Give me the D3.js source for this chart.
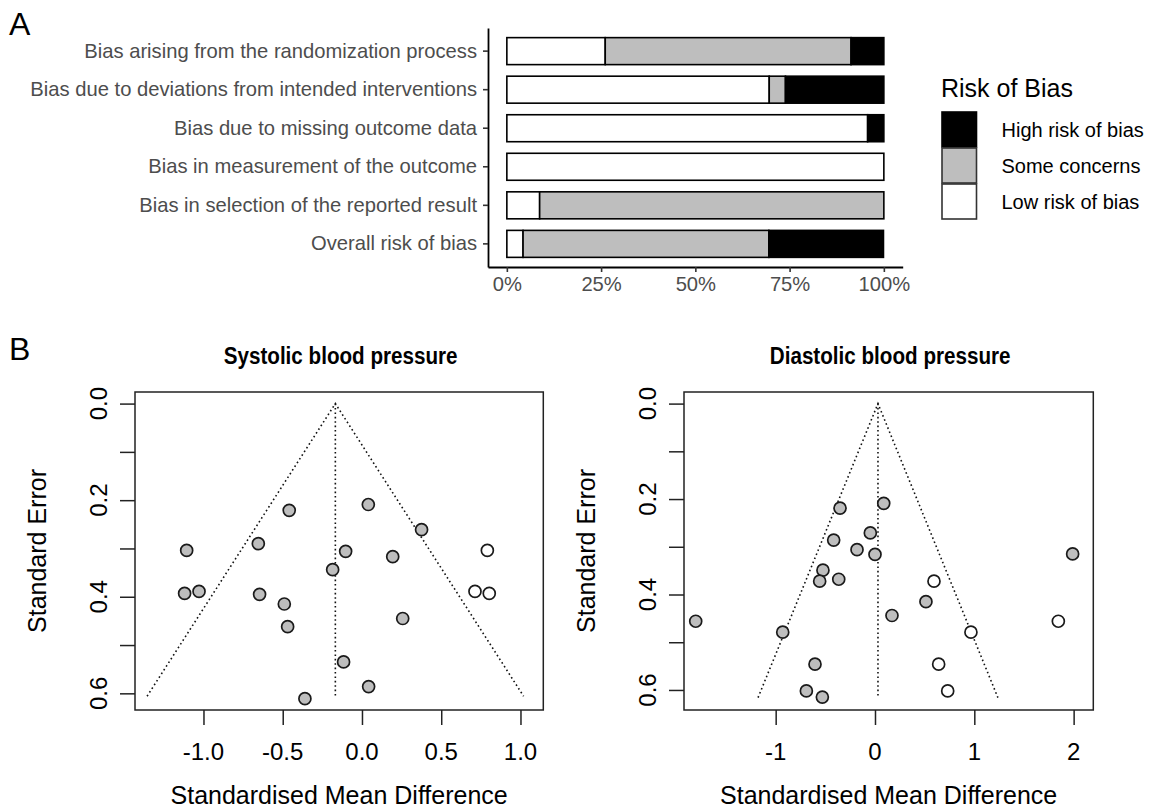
<!DOCTYPE html>
<html><head><meta charset="utf-8">
<script src="https://cdn.jsdelivr.net/npm/d3@7"></script>
<style>body{margin:0;background:#fff} svg{display:block}</style>
</head><body>
<svg id="chart" width="1159" height="810"></svg>
<script>
// ---------- Panel A data ----------
const domains = [
  "Bias arising from the randomization process",
  "Bias due to deviations from intended interventions",
  "Bias due to missing outcome data",
  "Bias in measurement of the outcome",
  "Bias in selection of the reported result",
  "Overall risk of bias"
];
const lowPct  = [26.1, 69.6, 95.7, 100, 8.7, 4.3];
const somePct = [65.2, 4.3, 0, 0, 91.3, 65.2];
const highPct = [8.7, 26.1, 4.3, 0, 0, 30.4];
const riskLevels = ["High risk of bias", "Some concerns", "Low risk of bias"];
const riskColors = ["#000000", "#BEBEBE", "#FFFFFF"];
const pctTicks = [0, 25, 50, 75, 100];
const pctTickLabels = ["0%", "25%", "50%", "75%", "100%"];

// ---------- Panel B data ----------
const sbpSMD = [-0.459, 0.040, 0.376, -1.106, -0.654, -0.103, 0.194, -0.185, -1.119, -1.028, -0.646, -0.490, -0.469, 0.257, -0.116, 0.042, -0.360];
const sbpSE  = [0.221, 0.209, 0.261, 0.304, 0.290, 0.306, 0.317, 0.344, 0.393, 0.389, 0.395, 0.415, 0.462, 0.445, 0.535, 0.586, 0.611];
const sbpFillSMD = [0.791, 0.713, 0.803];
const sbpFillSE  = [0.304, 0.389, 0.393];
const sbpCenter = -0.168, sbpSEmax = 0.606;

const dbpSMD = [-0.352, 0.088, -0.047, -0.416, -0.181, 0.000, 1.990, -0.524, -0.557, -0.365, 0.513, 0.171, -1.805, -0.929, -0.604, -0.691, -0.530];
const dbpSE  = [0.219, 0.209, 0.271, 0.286, 0.306, 0.316, 0.315, 0.349, 0.372, 0.368, 0.415, 0.444, 0.456, 0.479, 0.546, 0.602, 0.615];
const dbpFillSMD = [0.594, 1.846, 0.966, 0.641, 0.732];
const dbpFillSE  = [0.372, 0.456, 0.479, 0.546, 0.602];
const dbpCenter = 0.030, dbpSEmax = 0.616;

const seTicks = [0, 0.1, 0.2, 0.3, 0.4, 0.5, 0.6];
const seTickLabels = ["0.0", "0.2", "0.4", "0.6"];
const sbpXTicks = [-1, -0.5, 0, 0.5, 1];
const sbpXTickLabels = ["-1.0", "-0.5", "0.0", "0.5", "1.0"];
const dbpXTicks = [-1, 0, 1, 2];
const dbpXTickLabels = ["-1", "0", "1", "2"];

const FONT = "'Liberation Sans', Arial, Helvetica, sans-serif";
const svg = d3.select("#chart").style("font-family", FONT);

// ---------- Panel labels ----------
svg.append("text").attr("x", 9).attr("y", 35).attr("font-size", 32).text("A");
svg.append("text").attr("x", 9).attr("y", 360).attr("font-size", 32).text("B");

// ---------- Panel A ----------
(function () {
  const x = d3.scaleLinear().domain([-5, 105]).range([488, 902.7]);
  const y = d3.scaleBand().domain(domains).range([28, 267]).paddingInner(0.3).paddingOuter(0.25);
  const g = svg.append("g");

  const rows = domains.map((d, i) => {
    const segs = [
      { level: 2, start: 0, val: lowPct[i] },
      { level: 1, start: lowPct[i], val: somePct[i] },
      { level: 0, start: lowPct[i] + somePct[i], val: highPct[i] }
    ].filter(s => s.val > 0);
    return { d, segs };
  });
  rows.forEach(r => {
    g.selectAll(null).data(r.segs).enter().append("rect")
      .attr("x", s => x(s.start))
      .attr("width", s => x(s.start + s.val) - x(s.start))
      .attr("y", y(r.d))
      .attr("height", y.bandwidth())
      .attr("fill", s => riskColors[s.level])
      .attr("stroke", "#000").attr("stroke-width", 1.6);
  });

  const ya = g.append("g").attr("transform", "translate(488,0)")
    .call(d3.axisLeft(y).tickSize(5).tickSizeOuter(0).tickPadding(6));
  const xa = g.append("g").attr("transform", "translate(0,267)")
    .call(d3.axisBottom(x).tickValues(pctTicks).tickFormat((d, i) => pctTickLabels[i]).tickSize(5).tickSizeOuter(0).tickPadding(5));
  [ya, xa].forEach(a => {
    a.select(".domain").attr("stroke", "#000").attr("stroke-width", 1.8);
    a.selectAll(".tick line").attr("stroke", "#333").attr("stroke-width", 1.6);
    a.selectAll(".tick text").attr("fill", "#4D4D4D").attr("font-size", 20.2).attr("font-family", FONT);
  });

  // Legend
  const lg = svg.append("g");
  lg.append("text").attr("x", 941).attr("y", 96.5).attr("font-size", 25).attr("fill", "#000").text("Risk of Bias");
  riskLevels.forEach((lv, i) => {
    lg.append("rect").attr("x", 942).attr("y", 112 + i * 36).attr("width", 34.5).attr("height", 35)
      .attr("fill", riskColors[i]).attr("stroke", i === 0 ? "#000" : "#333").attr("stroke-width", 1.6);
    lg.append("text").attr("x", 1001.5).attr("y", 129.5 + i * 36).attr("dy", "0.35em")
      .attr("font-size", 20).attr("fill", "#000").text(lv);
  });
})();

// ---------- Panel B ----------
function funnel(cfg) {
  const x = d3.scaleLinear().domain(cfg.xDomain).range([cfg.left, cfg.right]);
  const y = d3.scaleLinear().domain(cfg.yDomain).range([392, 710]);
  const g = svg.append("g");

  // funnel lines
  const tri = [[cfg.center - 1.96 * cfg.seMax, cfg.seMax], [cfg.center, 0], [cfg.center + 1.96 * cfg.seMax, cfg.seMax]];
  g.append("path").attr("d", d3.line().x(d => x(d[0])).y(d => y(d[1]))(tri))
    .attr("fill", "none").attr("stroke", "#111").attr("stroke-width", 1.6).attr("stroke-dasharray", "1.6,2.8");
  g.append("path").attr("d", d3.line().x(d => x(d[0])).y(d => y(d[1]))([[cfg.center, 0], [cfg.center, cfg.seMax]]))
    .attr("fill", "none").attr("stroke", "#111").attr("stroke-width", 1.6).attr("stroke-dasharray", "1.6,2.8");

  // points
  const obs = cfg.smd.map((v, i) => ({ x: v, se: cfg.se[i], filled: true }));
  const imp = cfg.fillSmd.map((v, i) => ({ x: v, se: cfg.fillSe[i], filled: false }));
  g.selectAll(null).data(obs.concat(imp)).enter().append("circle")
    .attr("cx", d => x(d.x)).attr("cy", d => y(d.se)).attr("r", 6)
    .attr("fill", d => d.filled ? "#BEBEBE" : "#FFFFFF")
    .attr("stroke", "#1a1a1a").attr("stroke-width", 1.7);

  // box
  g.append("rect").attr("x", cfg.left).attr("y", 392).attr("width", cfg.right - cfg.left).attr("height", 318)
    .attr("fill", "none").attr("stroke", "#222").attr("stroke-width", 1.5);

  // x axis
  const xa = g.append("g").attr("transform", "translate(0,710)")
    .call(d3.axisBottom(x).tickValues(cfg.xTicks).tickFormat("").tickSize(15).tickSizeOuter(0));
  xa.select(".domain").remove();
  xa.selectAll(".tick line").attr("stroke", "#222").attr("stroke-width", 1.5);
  g.selectAll(null).data(cfg.xTicks).enter().append("text")
    .attr("x", d => x(d)).attr("y", 760).attr("text-anchor", "middle").attr("font-size", 24).attr("fill", "#000")
    .text((d, i) => cfg.xTickLabels[i]);

  // y axis
  const ya = g.append("g").attr("transform", `translate(${cfg.left},0)`)
    .call(d3.axisLeft(y).tickValues(seTicks).tickFormat("").tickSize(15).tickSizeOuter(0));
  ya.select(".domain").remove();
  ya.selectAll(".tick line").attr("stroke", "#222").attr("stroke-width", 1.5);
  const labelTicks = seTicks.filter((d, i) => i % 2 === 0);
  g.selectAll(null).data(labelTicks).enter().append("text")
    .attr("transform", d => `translate(${cfg.left - 28.5},${y(d)}) rotate(-90)`)
    .attr("text-anchor", "middle").attr("font-size", 24).attr("fill", "#000")
    .text((d, i) => seTickLabels[i]);

  // titles
  const cx = (cfg.left + cfg.right) / 2;
  g.append("text").attr("x", cx).attr("y", 804).attr("text-anchor", "middle").attr("font-size", 25).attr("fill", "#000")
    .text("Standardised Mean Difference");
  g.append("text").attr("transform", `translate(${cfg.left - 89},551) rotate(-90)`)
    .attr("text-anchor", "middle").attr("font-size", 25).attr("fill", "#000").text("Standard Error");
  g.append("text").attr("transform", `translate(${cx + 1.5},364) scale(0.86,1)`).attr("text-anchor", "middle")
    .attr("font-size", 24).attr("font-weight", "bold")
    .attr("fill", "#000").text(cfg.title);
}

funnel({
  title: "Systolic blood pressure", left: 135, right: 543.3,
  xDomain: [-1.432, 1.144], yDomain: [-0.024, 0.6345],
  smd: sbpSMD, se: sbpSE, fillSmd: sbpFillSMD, fillSe: sbpFillSE,
  center: sbpCenter, seMax: sbpSEmax, xTicks: sbpXTicks, xTickLabels: sbpXTickLabels
});
funnel({
  title: "Diastolic blood pressure", left: 684, right: 1093.3,
  xDomain: [-1.923, 2.198], yDomain: [-0.0243, 0.642],
  smd: dbpSMD, se: dbpSE, fillSmd: dbpFillSMD, fillSe: dbpFillSE,
  center: dbpCenter, seMax: dbpSEmax, xTicks: dbpXTicks, xTickLabels: dbpXTickLabels
});
</script>
</body></html>
